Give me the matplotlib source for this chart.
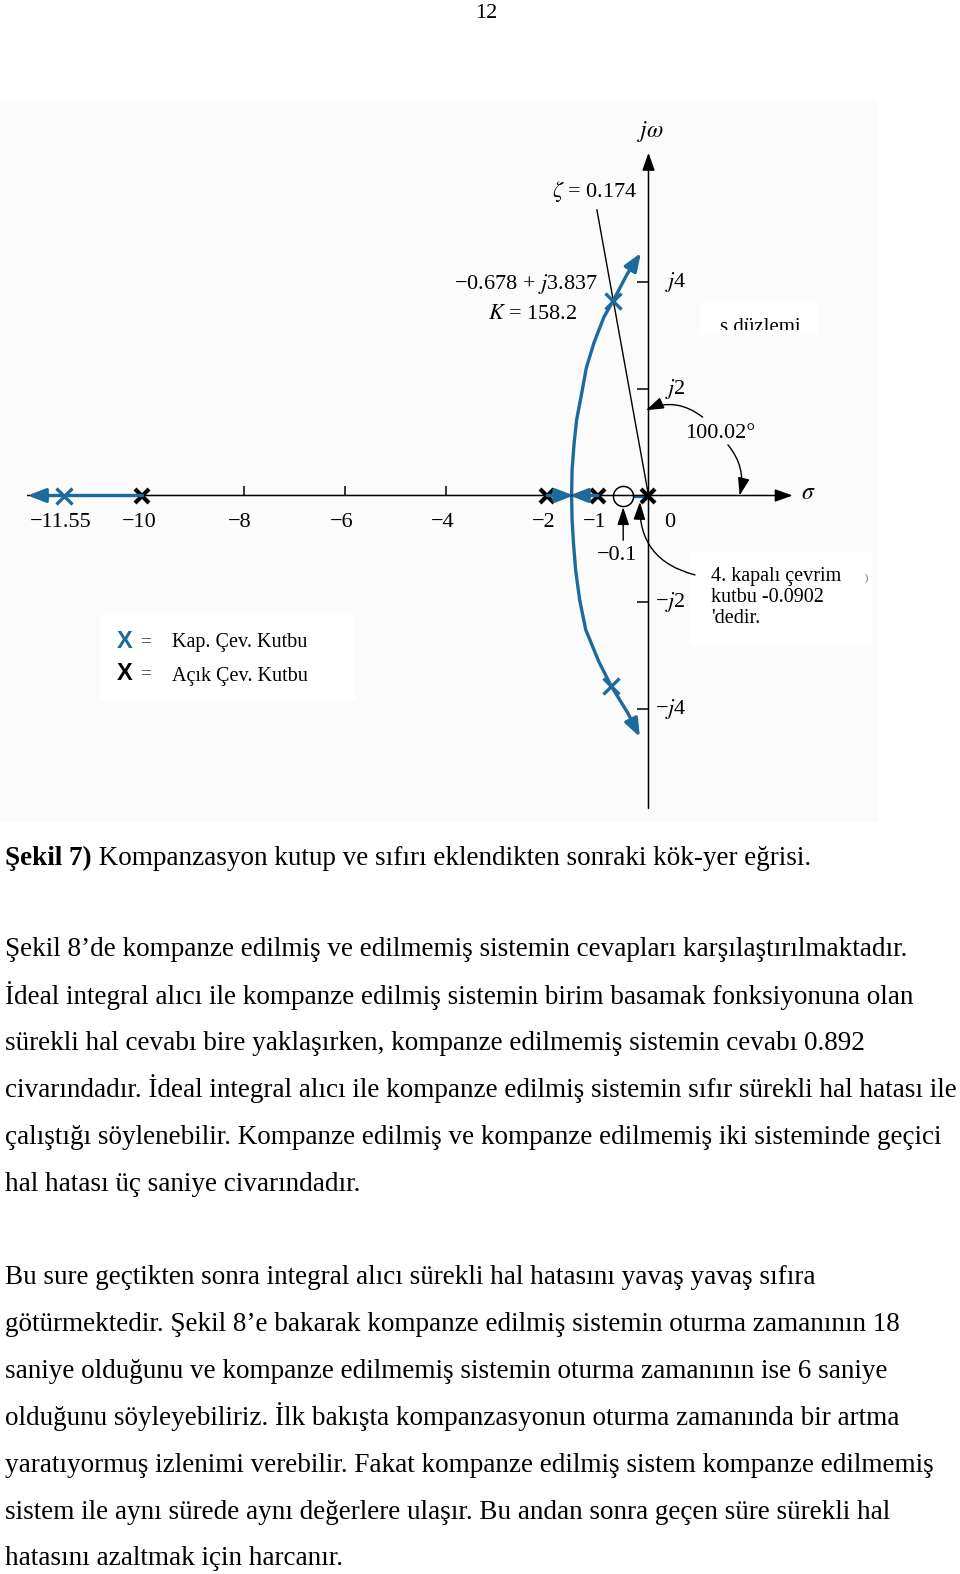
import matplotlib.pyplot as plt
from matplotlib.patches import Rectangle

plt.rcParams['font.family'] = ['Liberation Serif', 'DejaVu Serif']
plt.rcParams['mathtext.fontset'] = 'stix'

BLUE = '#1c6b9c'
W, H = 960, 1574

# root locus (sigma, omega as drawn)
upper_sigma = [-1.52, -1.51, -1.47, -1.42, -1.32, -1.23, -1.08, -0.88, -0.70, -0.43, -0.15]
upper_omega = [0.0, 0.48, 0.98, 1.42, 1.92, 2.39, 2.86, 3.35, 3.65, 4.14, 4.55]
lower_sigma = [-1.52, -1.51, -1.48, -1.44, -1.36, -1.24, -0.98, -0.74, -0.41, -0.17]
lower_omega = [0.0, -0.46, -0.93, -1.40, -1.96, -2.52, -3.12, -3.57, -4.08, -4.53]

open_poles = [-10, -2, -1, 0]
closed_sigma = [-11.55, -0.70, -0.74]
closed_omega = [0.0, 3.65, -3.57]
zero_drawn = -0.5
breakaway = -1.52
left_tip = -12.27

zeta_sigma = [-1.02, 0.0]
zeta_omega = [5.36, 0.0]

xtick_vals = [-8, -6, -4]
xtick_labels = ['\u221211.55', '\u221210', '\u22128', '\u22126', '\u22124', '\u22122', '\u22121', '0']
xtick_label_pos = [-11.55, -10, -8, -6, -4, -2, -1, 0]
ytick_vals = [4, 2, -2, -4]
ytick_labels = ['$j$4', '$j$2', '\u2212$j$2', '\u2212$j$4']

caption_bold = 'Şekil 7)'
caption_rest = ' Kompanzasyon kutup ve sıfırı eklendikten sonraki kök-yer eğrisi.'
para1 = [
    'Şekil 8’de kompanze edilmiş ve edilmemiş sistemin cevapları karşılaştırılmaktadır.',
    'İdeal integral alıcı ile kompanze edilmiş sistemin birim basamak fonksiyonuna olan',
    'sürekli hal cevabı bire yaklaşırken, kompanze edilmemiş sistemin cevabı 0.892',
    'civarındadır. İdeal integral alıcı ile kompanze edilmiş sistemin sıfır sürekli hal hatası ile',
    'çalıştığı söylenebilir. Kompanze edilmiş ve kompanze edilmemiş iki sisteminde geçici',
    'hal hatası üç saniye civarındadır.',
]
para2 = [
    'Bu sure geçtikten sonra integral alıcı sürekli hal hatasını yavaş yavaş sıfıra',
    'götürmektedir. Şekil 8’e bakarak kompanze edilmiş sistemin oturma zamanının 18',
    'saniye olduğunu ve kompanze edilmemiş sistemin oturma zamanının ise 6 saniye',
    'olduğunu söyleyebiliriz. İlk bakışta kompanzasyonun oturma zamanında bir artma',
    'yaratıyormuş izlenimi verebilir. Fakat kompanze edilmiş sistem kompanze edilmemiş',
    'sistem ile aynı sürede aynı değerlere ulaşır. Bu andan sonra geçen süre sürekli hal',
    'hatasını azaltmak için harcanır.',
]
para1_y = [947, 995, 1041, 1088, 1135, 1182]
para2_y = [1275, 1322, 1369, 1416, 1463, 1510, 1556]

fig = plt.figure(figsize=(W / 100, H / 100), dpi=100)


def box(x, y, w, h, color):
    r = Rectangle((x / W, 1 - (y + h) / H), w / W, h / H, transform=fig.transFigure,
                  facecolor=color, edgecolor='none', zorder=-5)
    fig.add_artist(r)
    return r


box(0, 100, 878, 722, '#fbfbfb')
box(700, 303, 118, 32, 'white')
box(690, 552, 182, 92, 'white')
box(100, 615, 255, 85, 'white')

# axes mapped so that 1 unit = 50.6 px across, 53.3 px up
ax = fig.add_axes([0, 1 - 830 / H, 1, 730 / H])
ax.set_xlim(-648.5 / 50.6, (960 - 648.5) / 50.6)
ax.set_ylim((495.5 - 830) / 53.3, (495.5 - 100) / 53.3)
ax.axis('off')
ax.patch.set_alpha(0)

arrow_k = dict(arrowstyle='-|>,head_length=0.9,head_width=0.32', color='black',
               lw=1.1, shrinkA=0, shrinkB=0, mutation_scale=12)

# axes
ax.annotate('', xy=(2.85, 0), xytext=(left_tip, 0), arrowprops=arrow_k)
ax.annotate('', xy=(0, 6.43), xytext=(0, -5.87), arrowprops=arrow_k)
ax.vlines(xtick_vals, 0, 0.18, color='black', lw=1.1)
ax.hlines(ytick_vals, -0.22, 0, color='black', lw=1.1)

# zeta line
ax.plot(zeta_sigma, zeta_omega, color='black', lw=1.0)

# locus
arrow_b = dict(arrowstyle='-|>,head_length=0.9,head_width=0.35', color=BLUE,
               lw=2.4, shrinkA=0, shrinkB=0, mutation_scale=12)
ax.plot(upper_sigma[:-1], upper_omega[:-1], color=BLUE, lw=2.4, solid_capstyle='butt')
ax.plot(lower_sigma[:-1], lower_omega[:-1], color=BLUE, lw=2.4, solid_capstyle='butt')
ax.annotate('', xy=(upper_sigma[-1], upper_omega[-1]), xytext=(upper_sigma[-2], upper_omega[-2]),
            arrowprops=arrow_b)
ax.annotate('', xy=(lower_sigma[-1], lower_omega[-1]), xytext=(lower_sigma[-2], lower_omega[-2]),
            arrowprops=arrow_b)
ax.annotate('', xy=(left_tip, 0), xytext=(open_poles[0], 0), arrowprops=arrow_b)
ax.annotate('', xy=(breakaway + 0.04, 0), xytext=(open_poles[1], 0), arrowprops=arrow_b)
ax.annotate('', xy=(breakaway - 0.04, 0), xytext=(open_poles[2], 0), arrowprops=arrow_b)
ax.plot([zero_drawn + 0.2, open_poles[3]], [0, 0], color=BLUE, lw=2.4)

# poles and zero
ax.plot(open_poles, [0] * len(open_poles), 'x', color='black', ms=10.5, mew=3)
ax.plot(closed_sigma, closed_omega, 'x', color=BLUE, ms=11, mew=2.4)
ax.plot([zero_drawn], [0], 'o', mfc='white', mec='black', ms=14.5, mew=1.1)

# labels on the axes
fs = 16
for lab, v in zip(xtick_labels, xtick_label_pos):
    dx = 0.42 if v == 0 else -0.07
    ax.text(v + dx, -0.5, lab, fontsize=fs, ha='center', va='center')
for lab, v in zip(ytick_labels, ytick_vals):
    ax.text(0.33 if v > 0 else 0.13, v, lab, fontsize=fs, ha='left', va='center')
ax.text(0.03, 6.83, r'$j\omega$', fontsize=fs + 1, ha='center', va='center')
ax.text(3.16, 0.03, r'$\sigma$', fontsize=fs + 1, ha='center', va='center')
ax.text(-1.06, 5.7, r'$\zeta$ = 0.174', fontsize=fs, ha='center', va='center')
ax.text(-0.99, 3.97, '\u22120.678 + $j$3.837', fontsize=fs, ha='right', va='center')
ax.text(-1.41, 3.39, '$K$ = 158.2', fontsize=fs, ha='right', va='center')
ax.text(1.41, 1.17, '100.02°', fontsize=fs, ha='center', va='center')
ax.text(-0.62, -1.12, '\u22120.1', fontsize=fs, ha='center', va='center')

# the label is cut off at the bottom in the original
s_txt = ax.text(2.2, (495.5 - 332) / 53.3, 's düzlemi', fontsize=15, ha='center', va='baseline',
                clip_on=True)
clip = Rectangle((690 / W, 1 - 329.5 / H), 140 / W, 40 / H, transform=fig.transFigure)
s_txt.set_clip_path(clip)

ax.text(1.24, (495.5 - 567) / 53.3, "4. kapalı çevrim\nkutbu -0.0902\n'dedir.", fontsize=14.5,
        ha='left', va='top', linespacing=1.13)
ax.text(4.3, -1.55, ')', fontsize=7, color='#555555', ha='center', va='center')

# arrows pointing at things
arrow_s = dict(arrowstyle='-|>,head_length=0.9,head_width=0.3', color='black',
               lw=1.0, shrinkA=0, shrinkB=0, mutation_scale=12)
ax.annotate('', xy=(zero_drawn, -0.22), xytext=(zero_drawn, -0.84), arrowprops=arrow_s)
ax.annotate('', xy=(-0.17, -0.12), xytext=(0.92, -1.49),
            arrowprops=dict(arrow_s, connectionstyle='arc3,rad=-0.4'))
ax.annotate('', xy=(-0.05, 1.60), xytext=(1.07, 1.47),
            arrowprops=dict(arrow_s, connectionstyle='arc3,rad=0.3'))
ax.annotate('', xy=(1.8, 0.0), xytext=(1.57, 0.95),
            arrowprops=dict(arrow_s, connectionstyle='arc3,rad=-0.25'))

# legend
for yy, col in [(642, BLUE), (674, 'black')]:
    fig.text(125 / W, 1 - yy / H, 'X', fontsize=17, color=col, family='Liberation Sans',
             fontweight='bold', ha='center', va='center')
    fig.text(146 / W, 1 - yy / H, '=', fontsize=14, ha='center', va='center', color='#333333')
fig.text(172 / W, 1 - 642 / H, 'Kap. Çev. Kutbu', fontsize=14.5, ha='left', va='center')
fig.text(172 / W, 1 - 676 / H, 'Açık Çev. Kutbu', fontsize=14.5, ha='left', va='center')

# page text
tfs = 19.5
fig.text(486 / W, 1 - 18 / H, '12', fontsize=16, ha='center', va='baseline')
t1 = fig.text(5 / W, 1 - 865 / H, caption_bold, fontsize=tfs, fontweight='bold', va='baseline')
plt.annotate(caption_rest, xy=(1, 0), xycoords=t1, fontsize=tfs, va='bottom', ha='left')

for yc, line in zip(para1_y, para1):
    fig.text(5 / W, 1 - (yc + 9) / H, line, fontsize=tfs, va='baseline')
for yc, line in zip(para2_y, para2):
    fig.text(5 / W, 1 - (yc + 9) / H, line, fontsize=tfs, va='baseline')

fig.savefig('out.png', dpi=100, facecolor='white')
